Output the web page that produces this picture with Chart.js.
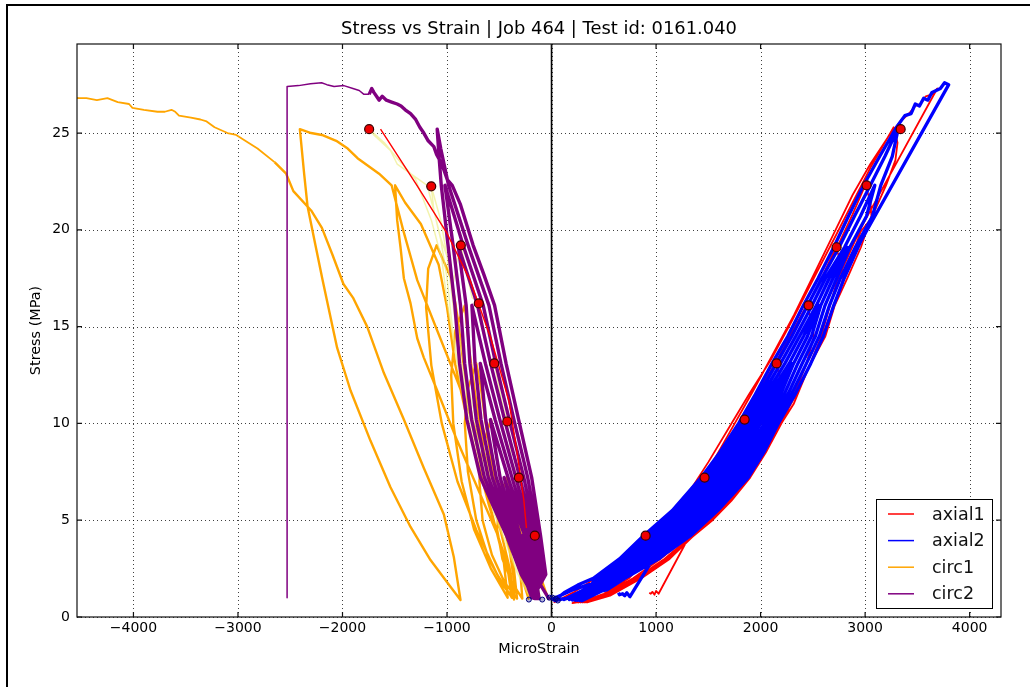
<!DOCTYPE html>
<html>
<head>
<meta charset="utf-8">
<script src="https://cdn.jsdelivr.net/npm/chart.js@4.4.1/dist/chart.umd.min.js"></script>
<style>
  html, body { margin: 0; padding: 0; background: #fff; }
  #wrap { position: relative; width: 1030px; height: 687px; overflow: hidden; }
  #c { position: absolute; left: 0; top: 0; }
  #edge { position: absolute; left: 6px; top: 4px; width: 1030px; height: 700px;
          border-left: 2px solid #000; border-top: 2px solid #000; pointer-events: none; }
</style>
</head>
<body>
<div id="wrap">
  <canvas id="c" width="1030" height="687"></canvas>
  <div id="edge"></div>
</div>
<script>
const chartTitle = 'Stress vs Strain | Job 464 | Test id: 0161.040';

// tick values
const xTicks = [-4000, -3000, -2000, -1000, 0, 1000, 2000, 3000, 4000];
const yTicks = [0, 5, 10, 15, 20, 25];

// axial gauge 1 (microstrain, MPa)
const axial1 = [
  [20,0.75],[220,1.3],[450,2.1],[680,3.1],[920,4.2],
  [960,3.6],[900,2.9],[740,2.0],[500,1.2],[260,0.75],
  [440,1.6],[660,2.5],[860,3.5],[1010,4.5],[1140,5.3],[1300,6.2],[1460,7.2],
  [1510,6.5],[1500,5.5],[1400,4.5],[1230,3.6],[1020,2.7],[780,1.8],[500,1.1],[280,0.75],
  [460,1.7],[700,2.8],[900,3.9],[1090,5.0],[1280,6.2],[1470,7.4],[1650,8.8],[1830,10.2],
  [1880,9.5],[1890,8.5],[1800,7.2],[1640,6.0],[1460,5.0],[1270,4.0],[1040,3.0],[780,2.0],[480,1.1],[300,0.75],
  [480,1.7],[720,2.8],[940,4.0],[1140,5.2],[1320,6.3],[1500,7.5],[1670,8.8],[1840,10.2],[1990,11.7],[2140,13.1],
  [2190,12.4],[2210,11.5],[2140,10.0],[2000,8.5],[1850,7.2],[1680,6.0],[1500,5.0],[1330,4.1],[1090,3.0],[820,2.0],[520,1.1],[320,0.75],
  [500,1.8],[740,2.9],[960,4.1],[1160,5.3],[1340,6.5],[1520,7.7],[1690,9.0],[1850,10.3],[2000,11.8],[2150,13.2],[2300,14.7],[2440,16.1],
  [2490,15.3],[2510,14.5],[2440,13.1],[2320,11.5],[2170,10.0],[2010,8.5],[1870,7.2],[1700,6.0],[1530,5.0],[1360,4.2],[1130,3.0],[860,2.0],[560,1.1],[340,0.75],
  [520,1.8],[760,2.9],[980,4.1],[1180,5.3],[1360,6.5],[1540,7.7],[1710,9.0],[1870,10.4],[2030,11.9],[2180,13.3],[2330,14.8],[2460,16.2],[2600,17.7],[2720,19.1],
  [2770,18.3],[2790,17.5],[2710,16.1],[2620,14.5],[2480,13.1],[2340,11.5],[2190,10.0],[2030,8.5],[1900,7.2],[1720,6.0],[1540,5.0],[1360,4.2],[1100,3.0],[800,1.9],[500,1.1],[340,0.75],
  [540,1.9],[780,3.0],[1000,4.2],[1190,5.4],[1380,6.6],[1560,7.9],[1730,9.2],[1890,10.6],[2040,12.1],[2190,13.5],[2340,15.0],[2480,16.4],[2620,17.9],[2750,19.3],[2880,20.8],[3000,22.3],
  [3050,21.5],[3060,20.7],[2960,19.1],[2830,17.5],[2710,16.1],[2600,14.5],[2480,13.1],[2320,11.5],[2170,10.0],[2020,8.5],[1880,7.2],[1700,6.0],[1520,5.0],[1340,4.2],[1080,3.0],[780,1.9],[480,1.0],[300,0.75],
  [520,1.6],[780,2.8],[1050,4.3],[1298,6.3],[1500,8.0],[1700,9.8],[1900,11.6],[2100,13.3],[2300,15.3],[2500,17.4],[2700,19.5],[2880,21.4],[3060,23.3],[3273,25.3],
  [3310,24.5],[3290,23.6],[3200,22.3],[3060,20.6],[2957,19.9],[2820,17.8],[2734,16.6],[2620,14.9],[2500,13.3],[2340,11.6],[2200,10.0],[2050,8.5],[1900,7.2],[1720,6.0],[1540,5.0],[1360,4.2],[1120,3.0],[820,1.9],[500,1.0],[200,0.72],
  [400,1.3],[700,2.4],[1000,3.9],[1250,5.6],[1480,7.4],[1700,9.5],[1920,11.6],[2120,13.6],[2320,15.6],[2510,17.7],[2700,19.8],[2880,21.8],[3050,23.4],[3220,24.8],
  [3340,25.6],[3420,26.0],[3480,26.4],[3530,26.5],[3580,26.9],[3640,27.0],[3690,27.3],
  [2960,20.1],[2734,17.4],[2574,14.4],[2316,11.0],[2000,8.3],[1700,6.2],[1400,5.0],[1024,1.2],
  [1000,1.35],[985,1.15],[965,1.3],[950,1.2],[935,1.25]
];

// axial gauge 2
const axial2 = [
  [0,0.9],[200,1.4],[551,2],[838,3],[1105,4.2],
  [862,3],[569,2],[350,1.4],[120,0.9],
  [532,2],[815,3],[1090,4.2],[1358,5.5],[1655,7.2],
  [1387,5.5],[1120,4.2],[885,3],[588,2],[375,1.4],[170,0.9],
  [513,2],[791,3],[1060,4.2],[1329,5.5],[1638,7.2],[1804,8.5],[1980,10.2],
  [1836,8.5],[1672,7.2],[1416,5.5],[1150,4.2],[909,3],[607,2],[400,1.4],[200,0.88],
  [494,2],[768,3],[1030,4.2],[1300,5.5],[1603,7.2],[1772,8.5],[1963,10],[2123,11.5],[2295,13.1],
  [2157,11.5],[1997,10],[1868,8.5],[1707,7.2],[1445,5.5],[1180,4.2],[932,3],[626,2],[425,1.4],[230,0.87],
  [475,2],[744,3],[1000,4.2],[1271,5.5],[1568,7.2],[1739,8.5],[1928,10],[2088,11.5],[2274,13.1],[2411,14.5],[2555,16.1],
  [2449,14.5],[2316,13.1],[2192,11.5],[2032,10],[1901,8.5],[1742,7.2],[1474,5.5],[1210,4.2],[956,3],[645,2],[450,1.4],[250,0.86],
  [456,2],[721,3],[970,4.2],[1242,5.5],[1534,7.2],[1707,8.5],[1894,10],[2054,11.5],[2233,13.1],[2373,14.5],[2534,16.1],[2657,17.5],[2829,19.1],
  [2693,17.5],[2576,16.1],[2487,14.5],[2357,13.1],[2226,11.5],[2066,10],[1933,8.5],[1776,7.2],[1503,5.5],[1240,4.2],[979,3],[664,2],[475,1.4],[270,0.85],
  [438,2],[697,3],[940,4.2],[1213,5.5],[1499,7.2],[1675,8.5],[1859,10],[2019,11.5],[2192,13.1],[2336,14.5],[2493,16.1],[2621,17.5],[2803,19.1],[2955,20.7],[3093,22.3],
  [3013,20.7],[2854,19.1],[2729,17.5],[2617,16.1],[2524,14.5],[2398,13.1],[2261,11.5],[2101,10],[1965,8.5],[1811,7.2],[1532,5.5],[1270,4.2],[1003,3],[682,2],[500,1.4],[290,0.84],
  [419,2],[674,3],[910,4.2],[1184,5.5],[1465,7.2],[1642,8.5],[1825,10],[1985,11.5],[2151,13.1],[2298,14.5],[2451,16.1],[2586,17.5],[2751,19.1],[2898,20.7],[3050,22.3],[3190,23.8],[3320,25.3],
  [3260,23.8],[3150,22.3],[3070,20.7],[2906,19.1],[2764,17.5],[2659,16.1],[2562,14.5],[2439,13.1],[2295,11.5],[2135,10],[1998,8.5],[1845,7.2],[1561,5.5],[1300,4.2],[1026,3],[701,2],[530,1.4],[30,0.85],
  [120,1.25],[250,1.65],[400,2],[650,3],[880,4.2],[1155,5.5],[1430,7.2],[1610,8.5],[1790,10],[1950,11.5],[2110,13.1],[2260,14.5],[2410,16.1],[2550,17.5],[2700,19.1],[2840,20.7],[2985,22.3],[3140,23.8],[3300,25.3],
  [3380,25.9],[3440,26.0],[3480,26.5],[3520,26.4],[3560,26.8],[3600,26.7],[3640,27.1],[3680,27.2],[3720,27.3],[3760,27.6],[3800,27.5],
  [2957,19.4],[2800,17.5],[2700,16.1],[2600,14.5],[2480,13.1],[2330,11.5],[2170,10],[2030,8.5],[1880,7.2],[1590,5.5],[1330,4.2],[1150,3.5],[947,2.78],[750,1.05],
  [720,1.25],[700,1.1],[680,1.2],[650,1.15],[640,1.25]
];

// circumferential gauge 1
const circ1 = [
  [-30,0.9],[-100,2.0],[-170,3.2],[-250,4.2],
  [-290,3.2],[-280,2.0],[-220,0.95],
  [-230,2.2],[-270,3.5],[-300,4.5],[-350,6.0],[-430,7.2],
  [-500,6.0],[-520,4.5],[-470,3.0],[-380,1.8],[-280,0.95],
  [-300,2.5],[-380,4.5],[-460,6.3],[-520,8.0],[-580,10.2],
  [-660,8.8],[-690,7.0],[-660,5.0],[-570,3.2],[-450,1.8],[-330,0.95],
  [-360,2.5],[-470,5.0],[-560,7.5],[-630,10.0],[-680,12.0],[-720,13.1],
  [-800,11.8],[-830,10.0],[-800,7.5],[-720,5.0],[-600,3.0],[-460,1.6],[-360,0.95],
  [-400,2.5],[-520,5.2],[-640,8.3],[-730,11.5],[-780,13.5],[-830,16.1],
  [-920,14.8],[-960,12.5],[-940,10.0],[-860,7.0],[-740,4.5],[-580,2.5],[-420,1.0],
  [-460,3.0],[-600,6.0],[-740,9.5],[-840,13.0],[-900,15.5],[-960,17.5],[-1100,19.2],
  [-1180,18.0],[-1200,16.0],[-1150,13.0],[-1050,10.0],[-900,7.0],[-720,4.5],[-520,2.2],[-380,1.0],
  [-420,2.5],[-600,5.8],[-780,9.5],[-920,13.0],[-1000,16.0],[-1080,18.2],[-1250,20.3],[-1400,21.4],[-1497,22.3],
  [-1477,20.5],[-1445,19.1],[-1413,17.5],[-1349,16.2],[-1285,14.4],[-1222,13.4],[-1094,11.7],[-902,9.1],
  [-711,6.7],[-520,4.3],[-392,2.25],[-359,0.9],
  [-359,1.9],[-424,4.3],[-552,7.06],[-711,9.5],[-902,12.2],[-1094,14.8],[-1285,17.4],[-1420,20.0],[-1530,22.3],
  [-1650,22.9],[-1856,23.7],[-1950,24.2],[-2060,24.6],[-2197,24.9],[-2300,25.0],[-2408,25.2],
  [-2367,22.9],[-2334,21.2],[-2266,19.4],[-2190,17.4],[-2095,15.0],[-2051,13.9],[-1923,11.7],[-1732,9.1],
  [-1541,6.7],[-1349,4.65],[-1158,2.94],[-967,1.56],[-871,0.88],
  [-935,3.1],[-1030,5.3],[-1222,7.7],[-1413,10.2],[-1604,12.6],[-1764,15.0],[-1900,16.5],[-1991,17.2],
  [-2095,18.7],[-2197,20.1],[-2300,21.0],[-2470,22.0],[-2539,22.9],[-2650,23.5],[-2813,24.2],[-2900,24.5],
  [-3017,24.9],[-3100,25.0],[-3224,25.3],[-3300,25.6],[-3359,25.7],[-3450,25.8],[-3564,25.9],[-3600,26.1],
  [-3636,26.2],[-3700,26.1],[-3770,26.1],[-3900,26.2],[-4010,26.3],[-4042,26.5],[-4150,26.6],[-4249,26.8],
  [-4350,26.7],[-4450,26.8],[-4523,26.8],[-4700,26.9]
];

// circumferential gauge 2
const circ2 = [
  [-20,0.9],[-166,2.2],[-278,4.2],
  [-183,2.2],[-120,0.95],
  [-152,2.2],[-257,4.2],[-454,7.2],
  [-300,4.2],[-197,2.2],[-135,0.95],
  [-138,2.2],[-235,4.2],[-416,7.2],[-585,10.2],
  [-492,7.2],[-322,4.2],[-211,2.2],[-150,0.95],
  [-124,2.2],[-213,4.2],[-378,7.2],[-540,10.2],[-682,13.1],
  [-630,10.2],[-529,7.2],[-343,4.2],[-226,2.2],[-160,0.95],
  [-110,2.2],[-192,4.2],[-341,7.2],[-495,10.2],[-633,13.1],[-762,16.1],
  [-732,13.1],[-675,10.2],[-567,7.2],[-365,4.2],[-240,2.2],[-170,0.97],
  [-96,2.2],[-170,4.2],[-303,7.2],[-450,10.2],[-583,13.1],[-708,16.1],[-894,19.2],
  [-817,16.1],[-781,13.1],[-720,10.2],[-605,7.2],[-387,4.2],[-254,2.2],[-180,1.0],
  [-83,2.2],[-148,4.2],[-265,7.2],[-405,10.2],[-534,13.1],[-654,16.1],[-846,19.2],[-1020,22.3],
  [-942,19.2],[-871,16.1],[-831,13.1],[-765,10.2],[-642,7.2],[-408,4.2],[-268,2.2],[-190,1.0],
  [-69,2.2],[-127,4.2],[-228,7.2],[-360,10.2],[-484,13.1],[-599,16.1],[-798,19.2],[-985,22.3],[-1060,24.2],[-1094,25.2],
  [-1078,23.9],[-1055,22.3],[-990,19.2],[-925,16.1],[-880,13.1],[-810,10.2],[-680,7.2],[-430,4.2],[-290,2.2],[-172,1.05],
  [-55,2.2],[-105,4.2],[-190,7.2],[-315,10.2],[-435,13.1],[-545,16.1],[-648,17.7],[-750,19.2],[-871,21.3],[-950,22.3],
  [-998,22.6],[-1050,23.4],[-1100,23.9],[-1126,24.3],[-1180,24.6],
  [-1222,25.0],[-1260,25.3],[-1300,25.7],[-1349,26.0],[-1400,26.2],[-1440,26.4],[-1477,26.5],[-1530,26.6],
  [-1580,26.7],[-1620,26.9],[-1650,26.7],[-1668,26.85],[-1700,27.1],[-1720,27.3],[-1745,27.0],[-1795,27.0],
  [-1840,27.2],[-1900,27.3],[-1987,27.45],[-2080,27.4],[-2150,27.5],[-2200,27.6],[-2306,27.55],[-2420,27.45],
  [-2530,27.4],[-2530,1.0]
];

// mean circumferential trace
const circMean = [
  [-100,0.9],[-250,4.0],[-313,7.2],[-380,8.0],[-424,10.1],[-470,11.0],[-548,13.1],[-600,13.5],[-696,16.2],
  [-760,16.5],[-868,19.2],[-900,18.5],[-950,17.0],[-900,14.0],[-800,11.0],[-680,8.0],[-520,5.0],[-300,2.0],
  [-150,0.95],[-400,4.0],[-620,8.0],[-780,11.5],[-900,15.0],[-980,18.0],[-1060,20.5],[-1151,22.25],
  [-1126,21.0],[-1060,19.5],[-1000,17.5],[-950,15.0],[-870,12.0],[-740,9.0],[-560,5.5],[-330,2.3],[-200,0.95],
  [-480,4.8],[-720,9.0],[-900,13.0],[-1000,16.3],[-1050,18.5],[-1150,20.5],[-1300,22.6],[-1477,23.7],
  [-1600,24.5],[-1745,25.2],[-1700,24.9],[-1541,24.1],[-1477,23.4],[-1349,22.9],[-1190,22.3],[-1126,21.0],
  [-1062,19.6],[-998,18.6],[-940,16.0],[-860,13.0],[-740,10.0],[-600,7.0],[-420,4.0],[-250,1.8],[-120,0.9]
];

// curve through the circumferential peaks
const circFit = [
  [-1636,25.2],[-1300,22.4],[-998,19.8],[-780,17.4],[-584,14.45],[-409,11.2],[-330,8.5],[-265,6.03],[-240,4.6]
];

// cycle peak markers
const axialPeaks = [
  [900,4.2],[1464,7.2],[1847,10.2],[2153,13.1],[2459,16.1],[2727,19.1],[3014,22.3],[3340,25.2]
];
const circPeaks = [
  [-160,4.2],[-313,7.2],[-424,10.1],[-548,13.1],[-696,16.2],[-868,19.2],[-1151,22.25],[-1745,25.2]
];

// zero readings
const zeroPoints = [[-217,0.9],[-89,0.9],[-20,1.0],[10,1.0],[40,0.95],[60,0.85]];

const zeroLine = [[0, 0], [0, 29.6]];

const pts = arr => arr.map(([x, y]) => ({ x, y }));
const FONT = "'DejaVu Sans', sans-serif";

const framePlugin = {
    id: 'frame',
    beforeDatasetsDraw(chart) {
        const { ctx, chartArea: a, scales: { x, y } } = chart;
        ctx.save();
        ctx.strokeStyle = 'rgba(0,0,0,0.75)';
        ctx.lineWidth = 1;
        ctx.setLineDash([1, 3]);
        ctx.beginPath();
        x.ticks.forEach(t => {
            const px = Math.round(x.getPixelForValue(t.value)) + 0.5;
            ctx.moveTo(px, a.top); ctx.lineTo(px, a.bottom);
        });
        y.ticks.forEach(t => {
            const py = Math.round(y.getPixelForValue(t.value)) + 0.5;
            ctx.moveTo(a.left, py); ctx.lineTo(a.right, py);
        });
        ctx.stroke();
        ctx.restore();
    },
    afterDraw(chart) {
        const { ctx, chartArea: a, scales: { x, y } } = chart;
        ctx.save();
        ctx.strokeStyle = '#111';
        ctx.lineWidth = 1.2;
        ctx.strokeRect(a.left, a.top, a.right - a.left, a.bottom - a.top);
        ctx.beginPath();
        x.ticks.forEach(t => {
            const px = x.getPixelForValue(t.value);
            ctx.moveTo(px, a.bottom); ctx.lineTo(px, a.bottom - 5);
            ctx.moveTo(px, a.top); ctx.lineTo(px, a.top + 5);
        });
        y.ticks.forEach(t => {
            const py = y.getPixelForValue(t.value);
            ctx.moveTo(a.left, py); ctx.lineTo(a.left + 5, py);
            ctx.moveTo(a.right, py); ctx.lineTo(a.right - 5, py);
        });
        ctx.stroke();

        // title, centred over the axes
        ctx.fillStyle = '#000';
        ctx.font = '17.9px ' + FONT;
        ctx.textAlign = 'center';
        ctx.textBaseline = 'middle';
        ctx.fillText(chartTitle, (a.left + a.right) / 2, 29.5);

        // legend box, lower right inside the axes
        const items = chart.data.datasets.filter(d => d.inLegend);
        const bx = 876, by = 499, bw = 116, bh = 109, rowH = 26.6;
        ctx.fillStyle = '#fff';
        ctx.fillRect(bx, by, bw, bh);
        ctx.strokeStyle = '#000';
        ctx.lineWidth = 1;
        ctx.strokeRect(bx + 0.5, by + 0.5, bw, bh);
        ctx.font = '17.5px ' + FONT;
        ctx.textAlign = 'left';
        items.forEach((d, i) => {
            const cy = by + 15 + i * rowH;
            ctx.strokeStyle = d.borderColor;
            ctx.lineWidth = 1.5;
            ctx.beginPath();
            ctx.moveTo(888, cy); ctx.lineTo(914, cy);
            ctx.stroke();
            ctx.fillStyle = '#111';
            ctx.fillText(d.label, 932, cy + 1);
        });
        ctx.restore();
    }
};

const lineSet = (label, data, color, width, order, inLegend) => ({
    label, data: pts(data), borderColor: color, backgroundColor: color,
    borderWidth: width, showLine: true, pointRadius: 0, tension: 0,
    borderJoinStyle: 'round', order, inLegend
});

// the smooth failure part of circ2 (flat top and the drop) is a thin trace
const circ2Set = lineSet('circ2', circ2, '#800080', 3.4, 8, true);
circ2Set.segment = {
    borderWidth: ctx => (ctx.p0.parsed.x < -1760 || ctx.p1.parsed.x < -1760) ? 1.5 : undefined
};
// the far-left tail of circ1 is a single sparse trace
const circ1Set = lineSet('circ1', circ1, '#ffa500', 2.4, 10, true);
circ1Set.segment = {
    borderWidth: ctx => (ctx.p0.parsed.x < -2600 && ctx.p1.parsed.x < -2600) ? 1.8 : undefined
};

new Chart(document.getElementById('c'), {
    type: 'scatter',
    data: {
        datasets: [
            lineSet('zero', zeroLine, '#000', 1.6, 20, false),
            lineSet('axial1', axial1, '#ff0000', 1.8, 12, true),
            lineSet('axial2', axial2, '#0000ff', 3.3, 11, true),
            circ1Set,
            lineSet('circ mean', circMean, 'rgba(235,235,120,0.6)', 1.5, 9, false),
            circ2Set,
            lineSet('circ fit', circFit, '#ff0000', 1.4, 6, false),
            {
                label: 'zero points', data: pts(zeroPoints), showLine: false,
                pointRadius: 2.5, borderColor: '#000080', backgroundColor: 'rgba(0,0,128,0.3)',
                borderWidth: 1, order: 5
            },
            {
                label: 'peaks', data: pts(axialPeaks.concat(circPeaks)), showLine: false,
                pointRadius: 4.5, borderColor: '#3a0000', backgroundColor: '#ee0000',
                borderWidth: 1.2, order: 4
            }
        ]
    },
    options: {
        responsive: false,
        animation: false,
        events: [],
        layout: { padding: { left: 0, right: 29, top: 44, bottom: 0 }, autoPadding: false },
        plugins: {
            legend: { display: false },
            tooltip: { enabled: false },
            title: { display: false }
        },
        scales: {
            x: {
                type: 'linear', min: -4540, max: 4300,
                afterBuildTicks: s => { s.ticks = xTicks.map(v => ({ value: v })); },
                afterFit: s => { s.height = 70; },
                grid: { display: false, drawTicks: false },
                border: { display: false },
                ticks: {
                    color: '#000', padding: 3, maxRotation: 0,
                    font: { family: FONT, size: 14 },
                    callback: v => v < 0 ? '\u2212' + Math.abs(v) : String(v)
                },
                title: {
                    display: true, text: 'MicroStrain', color: '#000',
                    font: { family: FONT, size: 14.4 },
                    padding: { top: 0, bottom: 29 }
                }
            },
            y: {
                type: 'linear', min: 0, max: 29.6,
                afterBuildTicks: s => { s.ticks = yTicks.map(v => ({ value: v })); },
                afterFit: s => { s.width = 77; },
                grid: { display: false, drawTicks: false },
                border: { display: false },
                ticks: {
                    color: '#000', padding: 7,
                    font: { family: FONT, size: 14 }
                },
                title: {
                    display: true, text: 'Stress (MPa)', color: '#000',
                    font: { family: FONT, size: 14.4 },
                    padding: { top: 28, bottom: 0 }
                }
            }
        }
    },
    plugins: [framePlugin]
});
</script>
</body>
</html>
